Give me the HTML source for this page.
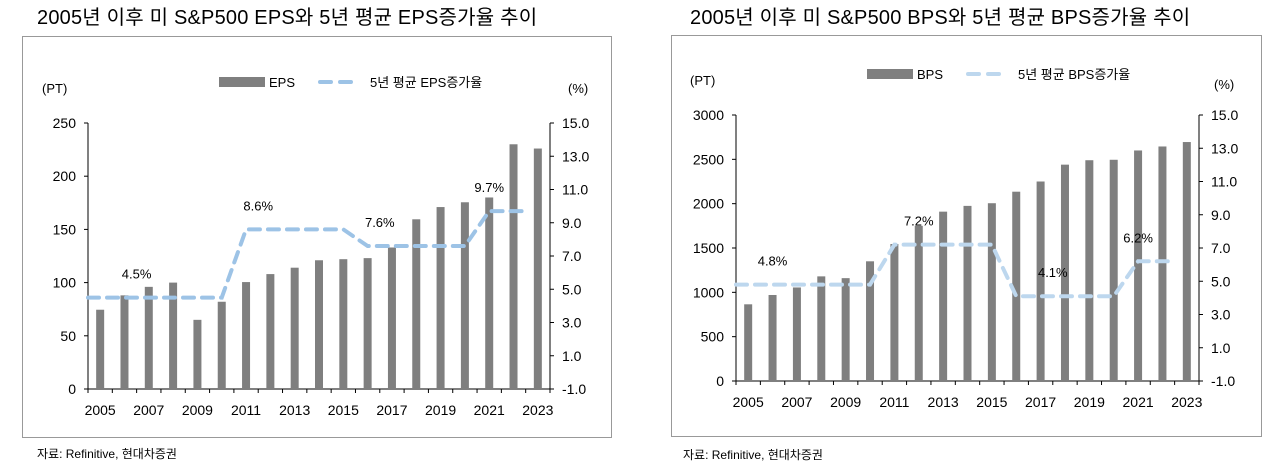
<!DOCTYPE html>
<html><head><meta charset="utf-8">
<style>
body{margin:0;background:#fff;width:1269px;height:469px;overflow:hidden;font-family:"Liberation Sans","Noto Sans CJK KR",sans-serif;}
svg{position:absolute;left:0;top:0}
text{font-family:"Liberation Sans","Noto Sans CJK KR",sans-serif;fill:#000}
</style></head><body>
<svg id="s" width="1269" height="469">
<text x="37" y="24" font-size="20" letter-spacing="0.2">2005년 이후 미 S&amp;P500 EPS와 5년 평균 EPS증가율 추이</text>
<text x="690" y="24" font-size="20" letter-spacing="0.2">2005년 이후 미 S&amp;P500 BPS와 5년 평균 BPS증가율 추이</text>
<rect x="22.5" y="36.5" width="589" height="401" fill="none" stroke="#999"/>
<rect x="671.5" y="35.5" width="590" height="401" fill="none" stroke="#999"/>
<text x="37" y="458" font-size="12">자료: Refinitive, 현대차증권</text>
<text x="683" y="459" font-size="12">자료: Refinitive, 현대차증권</text>
</svg>
<script>
const years = ["2005","2006","2007","2008","2009","2010","2011","2012","2013","2014","2015","2016","2017","2018","2019","2020","2021","2022","2023"];
const epsValues = [74.5,88,96,100,65,82,100.5,108,114,121,122,123,133,159.5,171,175.5,180,230,226];
const epsGrowth = [4.5,4.5,4.5,4.5,4.5,4.5,8.6,8.6,8.6,8.6,8.6,7.6,7.6,7.6,7.6,7.6,9.7,9.7];
const epsLeftTicks = [0,50,100,150,200,250];
const bpsValues = [865,970,1055,1180,1160,1350,1545,1750,1910,1975,2005,2135,2250,2440,2490,2495,2600,2645,2695];
const bpsGrowth = [4.8,4.8,4.8,4.8,4.8,4.8,7.2,7.2,7.2,7.2,7.2,4.1,4.1,4.1,4.1,4.1,6.2,6.2];
const bpsLeftTicks = [0,500,1000,1500,2000,2500,3000];
const rightTicks = [-1.0,1.0,3.0,5.0,7.0,9.0,11.0,13.0,15.0];
const epsLabels = [{i:1.5,g:1,v:"4.5%"},{i:6.5,g:6,v:"8.6%"},{i:11.5,g:11,v:"7.6%"},{i:16,g:16,v:"9.7%"}];
const bpsLabels = [{i:1,g:1,v:"4.8%"},{i:7,g:7,v:"7.2%"},{i:12.5,g:12,v:"4.1%"},{i:16,g:16,v:"6.2%"}];

const svg=document.getElementById('s');
const NS='http://www.w3.org/2000/svg';
function mk(tag,attrs,txt){const e=document.createElementNS(NS,tag);for(const k in attrs)e.setAttribute(k,attrs[k]);if(txt!==undefined)e.textContent=txt;svg.appendChild(e);return e;}

function chart(c){
  const bw=(c.x1-c.x0)/years.length;
  const xC=i=>c.x0+bw*(i+0.5);
  const yL=v=>c.yb-(v-0)/(c.lmax)*(c.yb-c.yt);
  const yR=v=>c.yb-(v+1)/16*(c.yb-c.yt);
  let e=mk('line',{x1:c.x0,y1:c.yt,x2:c.x0,y2:c.yb,stroke:'#000','stroke-width':1});
  
  
  e=mk('line',{x1:c.x1,y1:c.yt,x2:c.x1,y2:c.yb,stroke:'#000','stroke-width':1});
  
  
  e=mk('line',{x1:c.x0,y1:c.yb,x2:c.x1,y2:c.yb,stroke:'#000','stroke-width':1});
  
  
  c.lt.forEach(v=>{
    const y=yL(v);
    e=mk('line',{x1:c.x0-4,y1:y,x2:c.x0,y2:y,stroke:'#000'});
    
    
    e=mk('text',{x:c.x0-12,y:y+5,'font-size':14,'text-anchor':'end'},String(v));
    
    
  });
  rightTicks.forEach(v=>{
    const y=yR(v);
    e=mk('line',{x1:c.x1,y1:y,x2:c.x1+4,y2:y,stroke:'#000'});
    
    
    e=mk('text',{x:c.x1+12,y:y+5,'font-size':14},v.toFixed(1));
    
    
  });
  for(let i=0;i<=years.length;i++){
    e=mk('line',{x1:c.x0+bw*i,y1:c.yb,x2:c.x0+bw*i,y2:c.yb+4,stroke:'#000'});
    
    
  }
  years.forEach((yr,i)=>{
    if(i%2===0){
      e=mk('text',{x:xC(i),y:c.yb+26,'font-size':14,'text-anchor':'middle'},yr);
      
      
    }
  });
  c.vals.forEach((v,i)=>{
    e=mk('rect',{x:xC(i)-4,y:yL(v),width:8,height:c.yb-yL(v),fill:'#7f7f7f'});
    
    
  });
  let pts=[[xC(0)-bw/2,yR(c.gr[0])]];
  c.gr.forEach((v,i)=>pts.push([xC(i),yR(v)]));
  pts.push([xC(c.gr.length-1)+bw/2,yR(c.gr[c.gr.length-1])]);
  e=mk('polyline',{points:pts.map(p=>p.join(',')).join(' '),fill:'none',stroke:c.lc,'stroke-width':4,'stroke-dasharray':'11,8','stroke-linecap':'round'});
  
  
  c.lab.forEach(l=>{
    e=mk('text',{x:xC(l.i),y:yR(c.gr[l.g])-19,'font-size':13,'text-anchor':'middle'},l.v);
    
    
  });
  e=mk('rect',{x:c.lx,y:c.ly-5,width:46,height:10,fill:'#7f7f7f'});
  
  
  e=mk('text',{x:c.lx+50,y:c.ly+5,'font-size':13},c.name);
  
  
  e=mk('line',{x1:c.lx+101,y1:c.ly,x2:c.lx+139,y2:c.ly,stroke:c.lc,'stroke-width':4,'stroke-dasharray':'11,9','stroke-linecap':'round'});
  
  
  e=mk('text',{x:c.lx+151,y:c.ly+5,'font-size':13},'5년 평균 '+c.name+'증가율');
  
  
  e=mk('text',{x:c.ptx,y:c.pty,'font-size':13},'(PT)');
  
  
  e=mk('text',{x:c.pcx,y:c.pcy,'font-size':13},'(%)');
  
  
}
chart({p:'eps',x0:88,x1:550,yt:123,yb:389,lmax:250,lt:epsLeftTicks,vals:epsValues,gr:epsGrowth,lab:epsLabels,lc:'#9dc3e6',name:'EPS',lx:219,ly:82,ptx:42,pty:93,pcx:568,pcy:93});
chart({p:'bps',x0:736,x1:1199,yt:115,yb:381,lmax:3000,lt:bpsLeftTicks,vals:bpsValues,gr:bpsGrowth,lab:bpsLabels,lc:'#bdd7ee',name:'BPS',lx:867,ly:74,ptx:690,pty:85,pcx:1214,pcy:89});
</script>
</body></html>
